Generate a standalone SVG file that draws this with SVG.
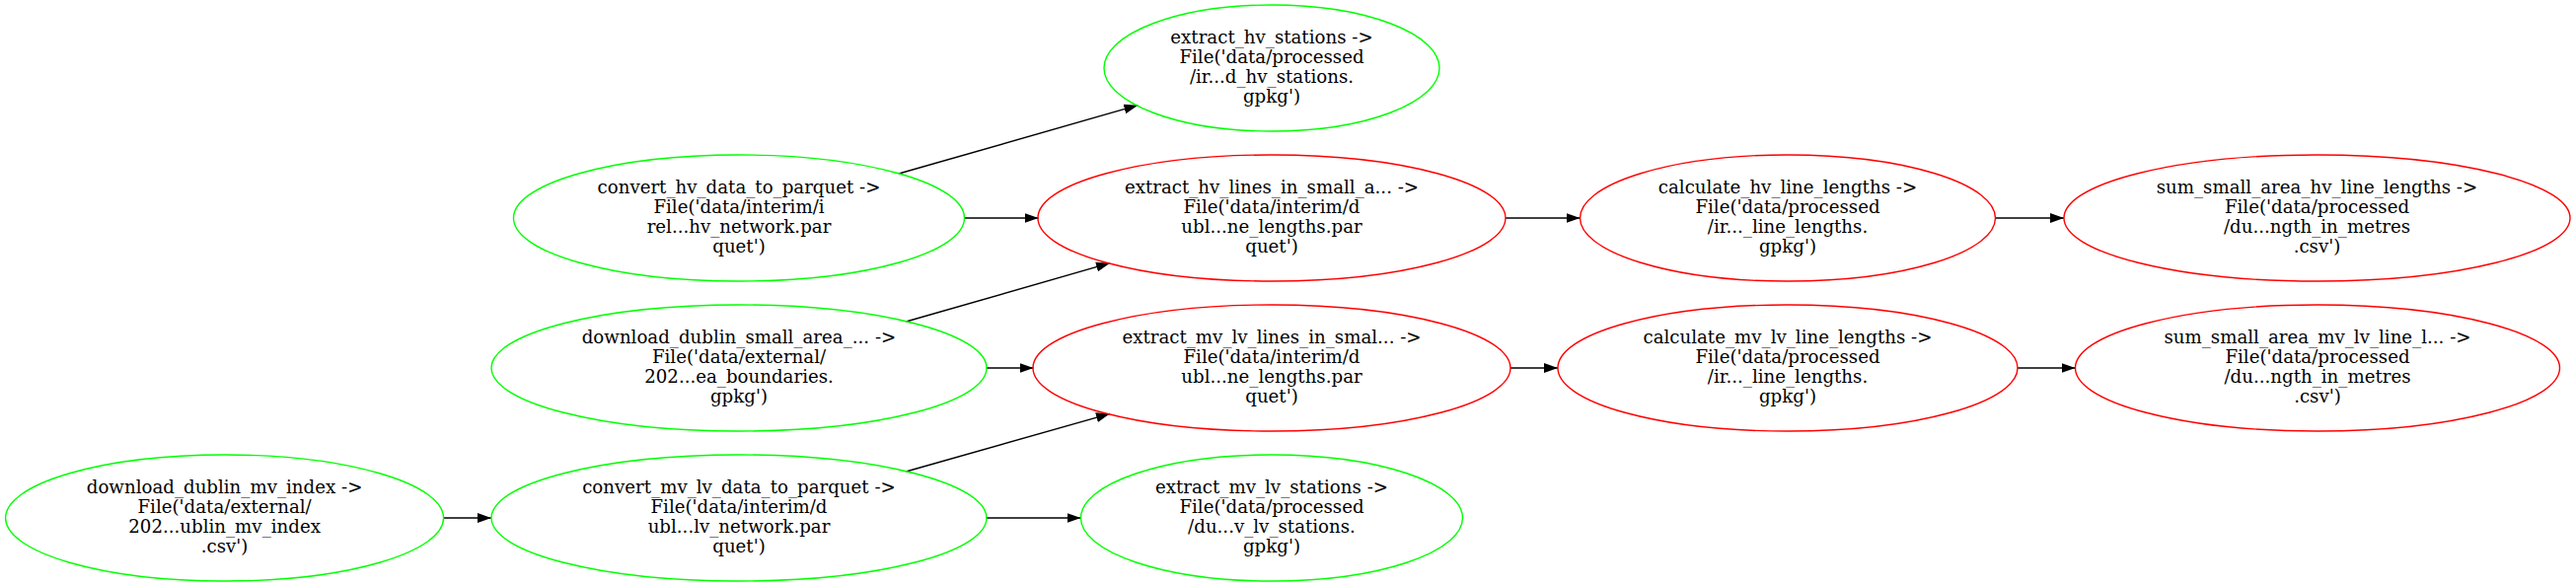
<svg xmlns="http://www.w3.org/2000/svg" width="2611" height="595" viewBox="0 0 2611 595">
<style>
.g{fill:none;stroke:#00ff00;stroke-width:1.4}
.r{fill:none;stroke:#ff0000;stroke-width:1.4}
text{font-family:"DejaVu Serif","Liberation Serif",serif;font-size:18.2px;fill:#000;text-anchor:middle}
.e{fill:none;stroke:#000;stroke-width:1.4}
</style>
<defs>
<marker id="ah" markerUnits="userSpaceOnUse" markerWidth="16" markerHeight="12" refX="14" refY="5" orient="auto">
<path d="M0,0 L14,5 L0,10 z" fill="#000"/>
</marker>
</defs>
<rect width="2611" height="595" fill="#fff"/>
<g id="edges">
<path class="e" d="M449.7,525 L498,525" marker-end="url(#ah)"/>
<path class="e" d="M977.3,221 L1052.5,221" marker-end="url(#ah)"/>
<path class="e" d="M1000,373 L1047.5,373" marker-end="url(#ah)"/>
<path class="e" d="M999.6,525 L1095.5,525" marker-end="url(#ah)"/>
<path class="e" d="M1526,221 L1601.5,221" marker-end="url(#ah)"/>
<path class="e" d="M1531,373 L1579,373" marker-end="url(#ah)"/>
<path class="e" d="M2022,221 L2092,221" marker-end="url(#ah)"/>
<path class="e" d="M2045,373 L2103.5,373" marker-end="url(#ah)"/>
<path class="e" d="M911,176 L1153.3,106.7" marker-end="url(#ah)"/>
<path class="e" d="M918.3,326 L1125,266.7" marker-end="url(#ah)"/>
<path class="e" d="M918.3,478 L1125,419.3" marker-end="url(#ah)"/>
</g>
<g id="n_download_dublin_mv_index">
<ellipse class="g" cx="227.6" cy="525" rx="222" ry="64"/>
<text x="227.6" y="500.3"><tspan x="227.6">download_dublin_mv_index -&gt;</tspan><tspan x="227.6" dy="19.8">File('data/external/</tspan><tspan x="227.6" dy="19.8">202...ublin_mv_index</tspan><tspan x="227.6" dy="19.8">.csv')</tspan></text>
</g>
<g id="n_convert_mv_lv_data_to_parquet">
<ellipse class="g" cx="749" cy="525" rx="251" ry="64"/>
<text x="749" y="500.3"><tspan x="749">convert_mv_lv_data_to_parquet -&gt;</tspan><tspan x="749" dy="19.8">File('data/interim/d</tspan><tspan x="749" dy="19.8">ubl...lv_network.par</tspan><tspan x="749" dy="19.8">quet')</tspan></text>
</g>
<g id="n_convert_hv_data_to_parquet">
<ellipse class="g" cx="749" cy="221" rx="228.5" ry="64"/>
<text x="749" y="196.3"><tspan x="749">convert_hv_data_to_parquet -&gt;</tspan><tspan x="749" dy="19.8">File('data/interim/i</tspan><tspan x="749" dy="19.8">rel...hv_network.par</tspan><tspan x="749" dy="19.8">quet')</tspan></text>
</g>
<g id="n_download_dublin_small_area">
<ellipse class="g" cx="749" cy="373" rx="251" ry="64"/>
<text x="749" y="348.3"><tspan x="749">download_dublin_small_area_... -&gt;</tspan><tspan x="749" dy="19.8">File('data/external/</tspan><tspan x="749" dy="19.8">202...ea_boundaries.</tspan><tspan x="749" dy="19.8">gpkg')</tspan></text>
</g>
<g id="n_extract_hv_stations">
<ellipse class="g" cx="1289" cy="69" rx="170" ry="64"/>
<text x="1289" y="44.3"><tspan x="1289">extract_hv_stations -&gt;</tspan><tspan x="1289" dy="19.8">File('data/processed</tspan><tspan x="1289" dy="19.8">/ir...d_hv_stations.</tspan><tspan x="1289" dy="19.8">gpkg')</tspan></text>
</g>
<g id="n_extract_hv_lines_in_small_area">
<ellipse class="r" cx="1289" cy="221" rx="237" ry="64"/>
<text x="1289" y="196.3"><tspan x="1289">extract_hv_lines_in_small_a... -&gt;</tspan><tspan x="1289" dy="19.8">File('data/interim/d</tspan><tspan x="1289" dy="19.8">ubl...ne_lengths.par</tspan><tspan x="1289" dy="19.8">quet')</tspan></text>
</g>
<g id="n_extract_mv_lv_lines_in_small_area">
<ellipse class="r" cx="1289" cy="373" rx="242" ry="64"/>
<text x="1289" y="348.3"><tspan x="1289">extract_mv_lv_lines_in_smal... -&gt;</tspan><tspan x="1289" dy="19.8">File('data/interim/d</tspan><tspan x="1289" dy="19.8">ubl...ne_lengths.par</tspan><tspan x="1289" dy="19.8">quet')</tspan></text>
</g>
<g id="n_extract_mv_lv_stations">
<ellipse class="g" cx="1289" cy="525" rx="193.5" ry="64"/>
<text x="1289" y="500.3"><tspan x="1289">extract_mv_lv_stations -&gt;</tspan><tspan x="1289" dy="19.8">File('data/processed</tspan><tspan x="1289" dy="19.8">/du...v_lv_stations.</tspan><tspan x="1289" dy="19.8">gpkg')</tspan></text>
</g>
<g id="n_calculate_hv_line_lengths">
<ellipse class="r" cx="1812" cy="221" rx="210.5" ry="64"/>
<text x="1812" y="196.3"><tspan x="1812">calculate_hv_line_lengths -&gt;</tspan><tspan x="1812" dy="19.8">File('data/processed</tspan><tspan x="1812" dy="19.8">/ir..._line_lengths.</tspan><tspan x="1812" dy="19.8">gpkg')</tspan></text>
</g>
<g id="n_calculate_mv_lv_line_lengths">
<ellipse class="r" cx="1812" cy="373" rx="233" ry="64"/>
<text x="1812" y="348.3"><tspan x="1812">calculate_mv_lv_line_lengths -&gt;</tspan><tspan x="1812" dy="19.8">File('data/processed</tspan><tspan x="1812" dy="19.8">/ir..._line_lengths.</tspan><tspan x="1812" dy="19.8">gpkg')</tspan></text>
</g>
<g id="n_sum_small_area_hv_line_lengths">
<ellipse class="r" cx="2348.5" cy="221" rx="256.5" ry="64"/>
<text x="2348.5" y="196.3"><tspan x="2348.5">sum_small_area_hv_line_lengths -&gt;</tspan><tspan x="2348.5" dy="19.8">File('data/processed</tspan><tspan x="2348.5" dy="19.8">/du...ngth_in_metres</tspan><tspan x="2348.5" dy="19.8">.csv')</tspan></text>
</g>
<g id="n_sum_small_area_mv_lv_line_lengths">
<ellipse class="r" cx="2349" cy="373" rx="245.5" ry="64"/>
<text x="2349" y="348.3"><tspan x="2349">sum_small_area_mv_lv_line_l... -&gt;</tspan><tspan x="2349" dy="19.8">File('data/processed</tspan><tspan x="2349" dy="19.8">/du...ngth_in_metres</tspan><tspan x="2349" dy="19.8">.csv')</tspan></text>
</g>
</svg>
